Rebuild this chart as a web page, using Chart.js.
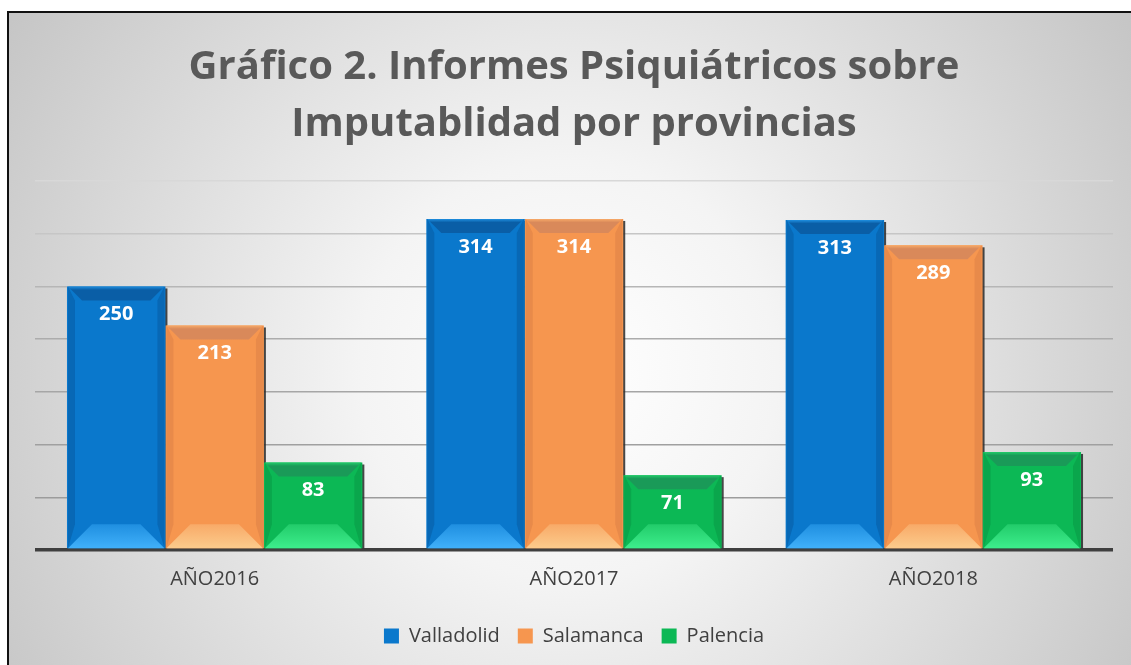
<!DOCTYPE html>
<html><head><meta charset="utf-8">
<script src="https://cdn.jsdelivr.net/npm/chart.js@4/dist/chart.umd.min.js"></script>
<style>
html,body{margin:0;padding:0;background:#fff;width:1131px;height:665px;overflow:hidden}
canvas{display:block;position:absolute;left:7px;top:11px}
</style></head>
<body>
<canvas id="c" width="1124" height="654"></canvas>
<script>
const categories = ['AÑO2016', 'AÑO2017', 'AÑO2018'];
const valladolid = [250, 314, 313];
const salamanca = [213, 314, 289];
const palencia = [83, 71, 93];
const seriesNames = ['Valladolid', 'Salamanca', 'Palencia'];
const titleLines = ['Gráfico 2. Informes Psiquiátricos sobre', 'Imputablidad por provincias'];

const FONT = '"Open Sans", Lato, sans-serif';

const palette = [
  {main:'#0a78cc', dark:'#0a5ea6', side:'#0868b5', light1:'#1f8fe0', light2:'#40b0fa', edge:'#06457a'},
  {main:'#f6964f', dark:'#d9895a', side:'#e88a4a', light1:'#f8aa68', light2:'#fccb8c', edge:'#a0603a'},
  {main:'#0cb855', dark:'#1a9a58', side:'#0aa64c', light1:'#22cc6a', light2:'#3ded8c', edge:'#0a6a35'}
];

const bgPlugin = {
  id:'bg',
  beforeDraw(chart){
    const {ctx,width,height} = chart;
    ctx.save();
    const g = ctx.createRadialGradient(width*0.5, height*0.55, 0, width*0.5, height*0.55, width*0.62);
    g.addColorStop(0,'#ffffff');
    g.addColorStop(0.3,'#f4f4f4');
    g.addColorStop(1,'#c2c2c2');
    ctx.fillStyle = g;
    ctx.fillRect(0,0,width,height);
    ctx.fillStyle = '#111';
    ctx.fillRect(0,0,width,2);
    ctx.fillRect(0,0,2,height);
    ctx.restore();
  }
};

const bevelPlugin = {
  id:'bevel',
  beforeDatasetsDraw(chart){
    const ctx = chart.ctx;
    ctx.save();
    chart.data.datasets.forEach((ds,di)=>{
      chart.getDatasetMeta(di).data.forEach(el=>{
        const r = el.x + el.width/2;
        ctx.fillStyle = 'rgba(40,40,40,0.85)';
        ctx.fillRect(r-1, el.y+2, 3, el.base-el.y-2);
      });
    });
    ctx.restore();
  },
  afterDatasetsDraw(chart){
    const ctx = chart.ctx;
    ctx.save();
    chart.data.datasets.forEach((ds,di)=>{
      const p = palette[di];
      chart.getDatasetMeta(di).data.forEach((el,i)=>{
        const l = el.x - el.width/2 + 1, r = el.x + el.width/2 - 1;
        const t = el.y, b = el.base;
        const bt = 14, bb = 24, bs = 7;
        ctx.fillStyle = p.side;
        ctx.beginPath();
        ctx.moveTo(l,t); ctx.lineTo(l+bs,t+bt); ctx.lineTo(l+bs,b-bb); ctx.lineTo(l,b); ctx.closePath(); ctx.fill();
        ctx.beginPath();
        ctx.moveTo(r,t); ctx.lineTo(r-bs,t+bt); ctx.lineTo(r-bs,b-bb); ctx.lineTo(r,b); ctx.closePath(); ctx.fill();
        const gt = ctx.createLinearGradient(0,t,0,t+bt);
        gt.addColorStop(0,p.light1); gt.addColorStop(0.25,p.dark); gt.addColorStop(1,p.dark);
        ctx.fillStyle = gt;
        ctx.beginPath();
        ctx.moveTo(l,t); ctx.lineTo(r,t); ctx.lineTo(r-bt,t+bt); ctx.lineTo(l+bt,t+bt); ctx.closePath(); ctx.fill();
        const gb = ctx.createLinearGradient(0,b-bb,0,b);
        gb.addColorStop(0,p.light1); gb.addColorStop(1,p.light2);
        ctx.fillStyle = gb;
        ctx.beginPath();
        ctx.moveTo(l,b); ctx.lineTo(r,b); ctx.lineTo(r-bb,b-bb); ctx.lineTo(l+bb,b-bb); ctx.closePath(); ctx.fill();
        ctx.fillStyle = '#ffffff';
        ctx.font = 'bold 20px ' + FONT;
        ctx.textAlign = 'center';
        ctx.textBaseline = 'middle';
        ctx.fillText(String(ds.data[i]), el.x, t + 28);
      });
    });
    ctx.restore();
  }
};

const gridColors = ['#3f3f3f','#9c9c9c','#a0a0a0','#a6a6a6','#acacac','#b6b6b6','#c6c6c6','#d8d8d8'];

new Chart(document.getElementById('c'), {
  type:'bar',
  data:{
    labels: categories,
    datasets:[
      {label:seriesNames[0], data:valladolid, backgroundColor:palette[0].main, borderColor:palette[0].edge, borderWidth:0},
      {label:seriesNames[1], data:salamanca, backgroundColor:palette[1].main, borderColor:palette[1].edge, borderWidth:0},
      {label:seriesNames[2], data:palencia, backgroundColor:palette[2].main, borderColor:palette[2].edge, borderWidth:0}
    ]
  },
  options:{
    responsive:false,
    animation:false,
    devicePixelRatio:1,
    layout:{padding:{left:28, right:18, top:0, bottom:9}},
    datasets:{bar:{categoryPercentage:0.822, barPercentage:1.0}},
    scales:{
      x:{
        grid:{display:false, drawTicks:false},
        border:{display:false},
        ticks:{color:'#404040', font:{family:FONT, size:20}, padding:17}
      },
      y:{
        min:0, max:350,
        ticks:{display:false, stepSize:50},
        border:{display:false},
        grid:{drawTicks:false, color:(c)=>gridColors[c.index]||'#ccc', lineWidth:(c)=>c.index===0?3.5:1.5}
      }
    },
    plugins:{
      title:{display:true, text:titleLines, color:'#595959',
        font:{family:FONT, size:40, weight:'bold', lineHeight:1.425},
        padding:{top:28, bottom:28}},
      legend:{position:'bottom',
        labels:{color:'#404040', font:{family:FONT, size:20}, boxWidth:15, boxHeight:15, padding:18}},
      tooltip:{enabled:false}
    }
  },
  plugins:[bgPlugin, bevelPlugin]
});
</script>
</body></html>
